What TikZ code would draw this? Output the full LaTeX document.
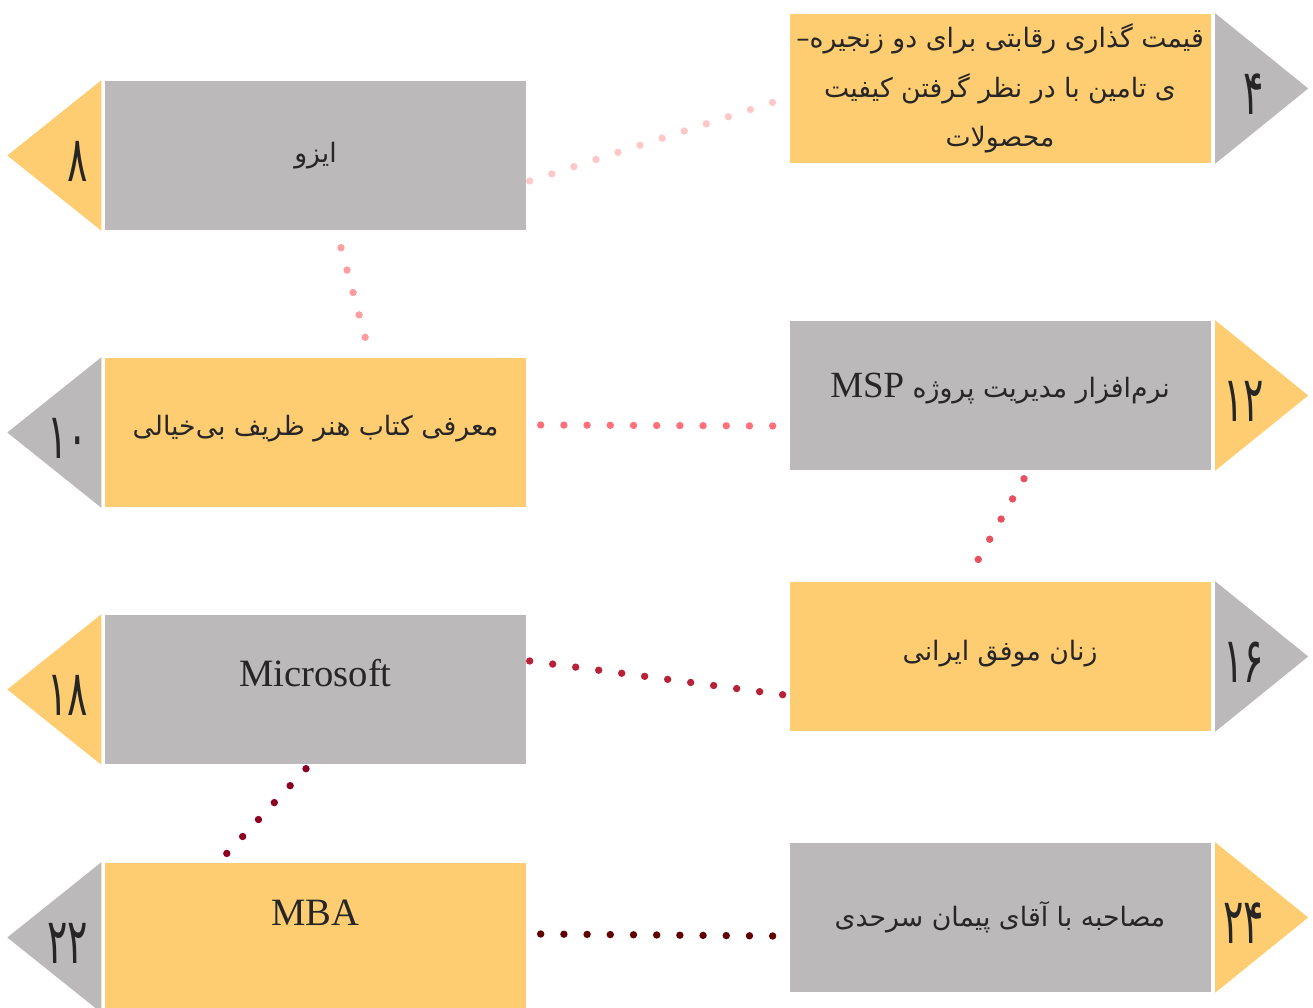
\documentclass[tikz,border=0pt]{standalone}
\usepackage{graphicx}
\usepackage{fontspec}
\setmainfont{Liberation Serif}
\newfontfamily\farsi[Script=Arabic]{DejaVu Sans}
\TeXXeTstate=1
\usetikzlibrary{backgrounds}

\definecolor{boxgray}{RGB}{187,185,186}
\definecolor{boxyellow}{RGB}{254,205,113}
\definecolor{ink}{RGB}{38,38,38}
\definecolor{dotA}{RGB}{255,200,200}
\definecolor{dotB}{RGB}{255,158,160}
\definecolor{dotC}{RGB}{255,112,122}
\definecolor{dotD}{RGB}{232,80,94}
\definecolor{dotE}{RGB}{184,34,56}
\definecolor{dotF}{RGB}{139,0,32}
\definecolor{dotG}{RGB}{96,0,0}

% persian text, right to left
\newcommand{\fatext}[1]{{\farsi\fontsize{7.6}{14}\selectfont\beginR #1\endR}}
% narrow persian digits
\newcommand{\fanum}[1]{\scalebox{0.6}[1]{#1}}

\begin{document}
\begin{tikzpicture}[
    card/.style={minimum width=4.21cm, minimum height=1.49cm, inner sep=0pt, text=ink,
                 font=\fontsize{11}{14}\selectfont, align=center},
    graycard/.style={card, fill=boxgray},
    yellowcard/.style={card, fill=boxyellow},
    lift/.style={text depth=#1},
    num/.style={anchor=east, inner sep=0pt, yshift=-0.06cm, text=ink, font=\farsi\fontsize{18}{18}\selectfont},
    link/.style={line width=2.1pt, line cap=round, dash pattern=on 0pt off 6.6pt}
]
    \useasboundingbox (0,0) rectangle (13.13,-10.08);
    \clip (0,0) rectangle (13.13,-10.08);

    % right column
    \node[yellowcard] (price) at (10.00,-0.885) {\fatext{قیمت گذاری رقابتی برای دو زنجیره–}\\
        \fatext{ی تامین با در نظر گرفتن کیفیت}\\ \fatext{محصولات}};
    \node[graycard, lift=0.2cm] (msp) at (10.00,-3.955) {\fatext{نرم^^^^200cافزار مدیریت پروژه \beginL{\rmfamily\fontsize{10.5}{12}\selectfont MSP}\endL}};
    \node[yellowcard, lift=0.13cm] (women) at (10.00,-6.565) {\fatext{زنان موفق ایرانی}};
    \node[graycard] (talk) at (10.00,-9.175) {\fatext{مصاحبه با آقای پیمان سرحدی}};

    % left column
    \node[graycard] (iso) at (3.155,-1.555) {\fatext{ایزو}};
    \node[yellowcard, lift=0.15cm] (book) at (3.155,-4.325) {\fatext{معرفی کتاب هنر ظریف بی^^^^200cخیالی}};
    \node[graycard, lift=0.34cm] (ms) at (3.155,-6.895) {Microsoft};
    \node[yellowcard, lift=0.49cm] (mba) at (3.155,-9.375) {MBA};

    % arrow heads
    \fill[boxgray] ([xshift=0.04cm]price.north east) -- ([xshift=0.97cm]price.east) -- ([xshift=0.04cm]price.south east) -- cycle;
    \fill[boxyellow] ([xshift=0.04cm]msp.north east) -- ([xshift=0.97cm]msp.east) -- ([xshift=0.04cm]msp.south east) -- cycle;
    \fill[boxgray] ([xshift=0.04cm]women.north east) -- ([xshift=0.97cm]women.east) -- ([xshift=0.04cm]women.south east) -- cycle;
    \fill[boxyellow] ([xshift=0.04cm]talk.north east) -- ([xshift=0.97cm]talk.east) -- ([xshift=0.04cm]talk.south east) -- cycle;
    \fill[boxyellow] ([xshift=-0.03cm]iso.north west) -- ([xshift=-0.97cm]iso.west) -- ([xshift=-0.03cm]iso.south west) -- cycle;
    \fill[boxgray] ([xshift=-0.03cm]book.north west) -- ([xshift=-0.97cm]book.west) -- ([xshift=-0.03cm]book.south west) -- cycle;
    \fill[boxyellow] ([xshift=-0.03cm]ms.north west) -- ([xshift=-0.97cm]ms.west) -- ([xshift=-0.03cm]ms.south west) -- cycle;
    \fill[boxgray] ([xshift=-0.03cm]mba.north west) -- ([xshift=-0.97cm]mba.west) -- ([xshift=-0.03cm]mba.south west) -- cycle;

    % numbers
    \node[num] (n4) at (12.65,-0.885) {\fanum{۴}};
    \node[num] (n8) at (0.89,-1.555) {\fanum{۸}};
    \node[num] (n10) at (0.89,-4.325) {\fanum{۱۰}};
    \node[num] (n12) at (12.65,-3.955) {\fanum{۱۲}};
    \node[num] (n16) at (12.65,-6.565) {\fanum{۱۶}};
    \node[num] (n18) at (0.89,-6.895) {\fanum{۱۸}};
    \node[num] (n22) at (0.89,-9.375) {\fanum{۲۲}};
    \node[num] (n24) at (12.65,-9.175) {\fanum{۲۴}};

    % dotted links, behind the cards
    \begin{scope}[on background layer]
        \draw[link, dotA] ([shift={(0.03,-0.255)}]iso.east) -- ([shift={(-0.15,-0.135)}]price.west);
        \draw[link, dotB] ([shift={(0.255,-0.17)}]iso.south) -- ([shift={(0.545,0.02)}]book.north);
        \draw[link, dotC] ([shift={(0.14,0.075)}]book.east) -- ([shift={(-0.14,-0.305)}]msp.west);
        \draw[link, dotD] ([shift={(0.24,-0.08)}]msp.south) -- ([shift={(-0.33,0.02)}]women.north);
        \draw[link, dotE] ([shift={(0.03,0.285)}]ms.east) -- ([shift={(-0.04,-0.385)}]women.west);
        \draw[link, dotF] ([shift={(-0.095,-0.04)}]ms.south) -- ([shift={(-0.895,0.08)}]mba.north);
        \draw[link, dotG] ([shift={(0.14,0.035)}]mba.east) -- ([shift={(-0.15,-0.185)}]talk.west);
    \end{scope}
\end{tikzpicture}
\end{document}
